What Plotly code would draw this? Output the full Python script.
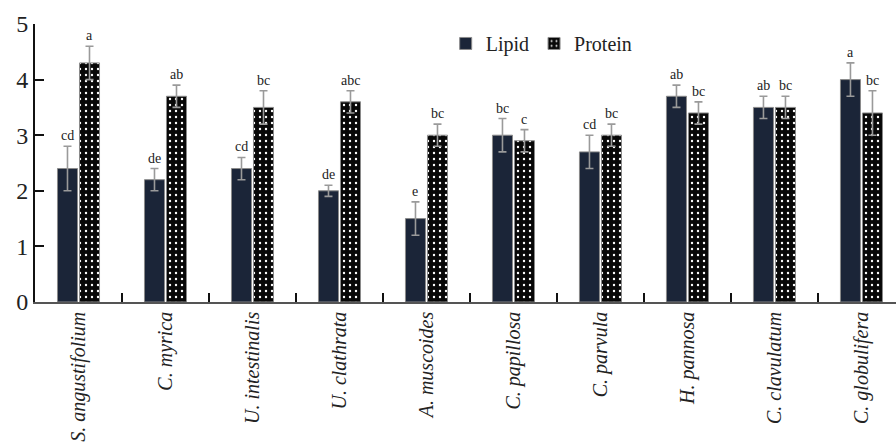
import plotly.graph_objects as go

# Species (x-axis categories)
species = [
    "S. angustifolium", "C. myrica", "U. intestinalis", "U. clathrata",
    "A. muscoides", "C. papillosa", "C. parvula", "H. pannosa",
    "C. clavulatum", "C. globulifera",
]

# Lipid content, standard deviation and significance letters
lipid = [2.4, 2.2, 2.4, 2.0, 1.5, 3.0, 2.7, 3.7, 3.5, 4.0]
lipid_err = [0.4, 0.2, 0.2, 0.1, 0.3, 0.3, 0.3, 0.2, 0.2, 0.3]
lipid_letters = ["cd", "de", "cd", "de", "e", "bc", "cd", "ab", "ab", "a"]

# Protein content, standard deviation and significance letters
protein = [4.3, 3.7, 3.5, 3.6, 3.0, 2.9, 3.0, 3.4, 3.5, 3.4]
protein_err = [0.3, 0.2, 0.3, 0.2, 0.2, 0.2, 0.2, 0.2, 0.2, 0.4]
protein_letters = ["a", "ab", "bc", "abc", "bc", "c", "bc", "bc", "bc", "bc"]

y_ticks = [0, 1, 2, 3, 4, 5]

FONT = "Liberation Serif"
ERR = dict(type="data", color="#9a9a9a", thickness=1.6, width=4)

fig = go.Figure()
fig.add_trace(go.Bar(
    name="Lipid", x=species, y=lipid,
    error_y=dict(array=lipid_err, **ERR),
    marker=dict(color="#1b2538", line=dict(color="#8a8a8a", width=1)),
))
fig.add_trace(go.Bar(
    name="Protein", x=species, y=protein,
    error_y=dict(array=protein_err, **ERR),
    marker=dict(
        color="#080808",
        line=dict(color="#8a8a8a", width=1),
        pattern=dict(shape=".", fgcolor="#ffffff", bgcolor="#080808",
                     size=6, solidity=0.12, fillmode="replace"),
    ),
))

# Significance letters above each error bar
for vals, errs, letters, shift in [
    (lipid, lipid_err, lipid_letters, -11),
    (protein, protein_err, protein_letters, 11),
]:
    for sp, v, e, t in zip(species, vals, errs, letters):
        fig.add_annotation(
            x=sp, y=v + e, text=t, showarrow=False,
            xshift=shift, yshift=1, yanchor="bottom",
            font=dict(family=FONT, size=14),
        )

fig.update_layout(
    width=896, height=445,
    margin=dict(l=35, r=0, t=24, b=143),
    plot_bgcolor="white", paper_bgcolor="white",
    barmode="group", bargap=0.494, bargroupgap=0.09,
    font=dict(color="#222222"),
    showlegend=True,
    legend=dict(
        orientation="h", x=0.477, y=0.93, xanchor="left", yanchor="middle",
        font=dict(family=FONT, size=20),
    ),
)
fig.update_xaxes(
    range=[-0.5, 9.397],
    showline=True, linecolor="#555555", linewidth=1.5,
    ticks="inside", tickson="boundaries", ticklen=9, tickwidth=2,
    tickcolor="#111111", tickangle=-90,
    tickfont=dict(family=FONT, size=20, style="italic"),
    showgrid=False, zeroline=False,
)
fig.update_yaxes(
    range=[0, 5], tickvals=y_ticks,
    showline=True, linecolor="#111111", linewidth=2,
    ticks="inside", ticklen=9, tickwidth=2, tickcolor="#111111",
    tickfont=dict(family=FONT, size=24),
    showgrid=False, zeroline=False,
)

fig.write_html("out.html")
